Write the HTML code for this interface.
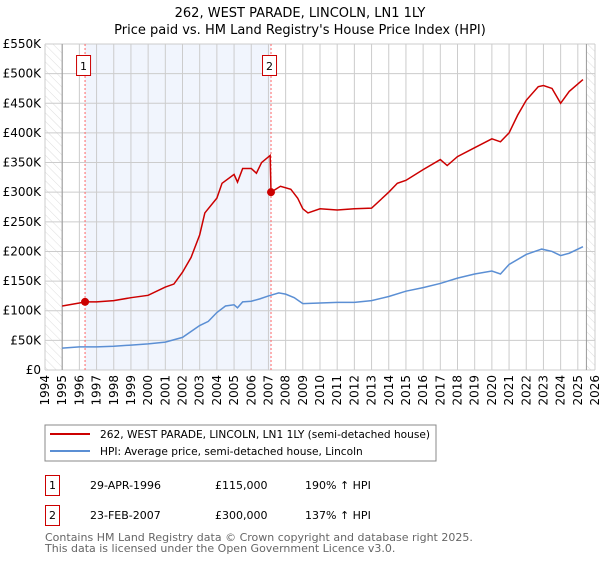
<!DOCTYPE html>
<html><head><meta charset="utf-8"><style>
body{margin:0;background:#fff;font-family:"Liberation Sans","DejaVu Sans",sans-serif}
svg text{font-family:"DejaVu Sans","Liberation Sans",sans-serif}
</style></head><body>
<svg id="c" width="600" height="560" xmlns="http://www.w3.org/2000/svg">
<defs><pattern id="hatch" width="6" height="6" patternUnits="userSpaceOnUse" patternTransform="rotate(-45)"><line x1="0" y1="0" x2="0" y2="6" stroke="#ddd" stroke-width="1"/></pattern></defs>
<text x="300" y="17" text-anchor="middle" font-size="13">262, WEST PARADE, LINCOLN, LN1 1LY</text>
<text x="300" y="34" text-anchor="middle" font-size="13">Price paid vs. HM Land Registry's House Price Index (HPI)</text>
<g id="plot"></g>
<g>
<rect x="45" y="425" width="391" height="36" fill="#fff" stroke="#888"/>
<line x1="50" y1="434" x2="90" y2="434" stroke="#cc0000" stroke-width="2"/>
<text x="100" y="438" font-size="10.6">262, WEST PARADE, LINCOLN, LN1 1LY (semi-detached house)</text>
<line x1="50" y1="451" x2="90" y2="451" stroke="#5b8fd4" stroke-width="2"/>
<text x="100" y="455" font-size="10.6">HPI: Average price, semi-detached house, Lincoln</text>
</g>
<g font-size="11">
<rect x="45.5" y="475.5" width="14" height="20" fill="#fff" stroke="#cc0000"/><text x="52.5" y="489" text-anchor="middle">1</text>
<text x="90" y="489">29-APR-1996</text><text x="215" y="489">£115,000</text><text x="305" y="489">190% ↑ HPI</text>
<rect x="45.5" y="505.5" width="14" height="20" fill="#fff" stroke="#cc0000"/><text x="52.5" y="519" text-anchor="middle">2</text>
<text x="90" y="519">23-FEB-2007</text><text x="215" y="519">£300,000</text><text x="305" y="519">137% ↑ HPI</text>
</g>
<text x="45" y="541" font-size="11" fill="#666">Contains HM Land Registry data © Crown copyright and database right 2025.</text>
<text x="45" y="552" font-size="11" fill="#666">This data is licensed under the Open Government Licence v3.0.</text>
</svg>
<script>
const hpiYears=[1995,1996,1997,1998,1999,2000,2001,2002,2003,2003.5,2004,2004.5,2005,2005.2,2005.5,2006,2006.5,2007,2007.6,2008,2008.5,2009,2010,2011,2012,2013,2014,2015,2016,2017,2018,2019,2020,2020.5,2021,2022,2022.9,2023.5,2024,2024.5,2025.3];
const hpiValues=[37,39,39,40,42,44,47,55,75,82,97,108,110,105,115,116,120,125,130,128,122,112,113,114,114,117,124,133,139,146,155,162,167,162,178,195,204,200,193,197,208];
const redYears=[1995,1996,1996.33,1997,1998,1999,2000,2001,2001.5,2002,2002.5,2003,2003.3,2004,2004.3,2005,2005.2,2005.5,2006,2006.3,2006.6,2007.1,2007.15,2007.7,2008.3,2008.7,2009,2009.3,2010,2011,2012,2013,2014,2014.5,2015,2016,2017,2017.4,2018,2019,2020,2020.5,2021,2021.5,2022,2022.7,2023,2023.5,2024,2024.5,2025.3];
const redValues=[108,113,115,115,117,122,126,140,145,165,190,228,265,290,315,330,317,340,340,332,350,362,300,310,305,290,272,265,272,270,272,273,300,315,320,338,355,345,360,375,390,385,400,430,455,478,480,475,450,470,490];
const yTicks=[0,50,100,150,200,250,300,350,400,450,500,550];
const yLabels=["£0","£50K","£100K","£150K","£200K","£250K","£300K","£350K","£400K","£450K","£500K","£550K"];
const xTicks=[1994,1995,1996,1997,1998,1999,2000,2001,2002,2003,2004,2005,2006,2007,2008,2009,2010,2011,2012,2013,2014,2015,2016,2017,2018,2019,2020,2021,2022,2023,2024,2025,2026];
const sales=[[1996.33,115,"1"],[2007.15,300,"2"]];
const X0=45,X1=595,Y0=370,Y1=44;
const xs=y=>X0+(y-1994)/32*(X1-X0);
const ys=v=>Y0-v/550*(Y0-Y1);
const NS="http://www.w3.org/2000/svg";
const g=document.getElementById('plot');
function mk(t,a){const e=document.createElementNS(NS,t);for(const k in a)e.setAttribute(k,a[k]);g.appendChild(e);return e;}
let e;
e=mk('rect',{x:xs(1996.33),y:Y1,width:xs(2007.15)-xs(1996.33),height:Y0-Y1,fill:'#eef3fc',opacity:0.8});


e=mk('rect',{x:X0,y:Y1,width:xs(1995)-X0,height:Y0-Y1,fill:'url(#hatch)'});


e=mk('rect',{x:xs(2025.5),y:Y1,width:X1-xs(2025.5),height:Y0-Y1,fill:'url(#hatch)'});


yTicks.forEach((v,i)=>{
 e=mk('line',{x1:X0,x2:X1,y1:ys(v),y2:ys(v),stroke:'#ccc'});
 
 
 e=mk('text',{x:X0-4,y:ys(v)+4,'text-anchor':'end','font-size':12});
 e.textContent=yLabels[i];
 
 
});
xTicks.forEach(v=>{
 e=mk('line',{x1:xs(v),x2:xs(v),y1:Y1,y2:Y0,stroke:'#ccc'});
 
 
 e=mk('text',{x:0,y:0,'font-size':12,'text-anchor':'end',transform:`translate(${xs(v)+4},${Y0+5}) rotate(-90)`});
 e.textContent=v;
 
 
});
e=mk('line',{x1:xs(1995),x2:xs(1995),y1:Y1,y2:Y0,stroke:'#999'});


e=mk('line',{x1:xs(2025.5),x2:xs(2025.5),y1:Y1,y2:Y0,stroke:'#999'});


sales.forEach(s=>{
 e=mk('line',{x1:xs(s[0]),x2:xs(s[0]),y1:Y1,y2:Y0,stroke:'#ff6666','stroke-dasharray':'2,2'});
 
 
 e=mk('rect',{x:xs(s[0])-8.5,y:55.5,width:14,height:20,fill:'#fff',stroke:'#cc0000'});
 
 
 e=mk('text',{x:xs(s[0])-1.5,y:70,'font-size':11,'text-anchor':'middle'});
 e.textContent=s[2];
 
 
});
e=mk('polyline',{points:hpiYears.map((y,i)=>xs(y)+','+ys(hpiValues[i])).join(' '),fill:'none',stroke:'#5b8fd4','stroke-width':1.5});


e=mk('polyline',{points:redYears.map((y,i)=>xs(y)+','+ys(redValues[i])).join(' '),fill:'none',stroke:'#cc0000','stroke-width':1.5});


sales.forEach(s=>{
 e=mk('circle',{cx:xs(s[0]),cy:ys(s[1]),r:4,fill:'#cc0000'});
 
 
});
</script>
</body></html>
